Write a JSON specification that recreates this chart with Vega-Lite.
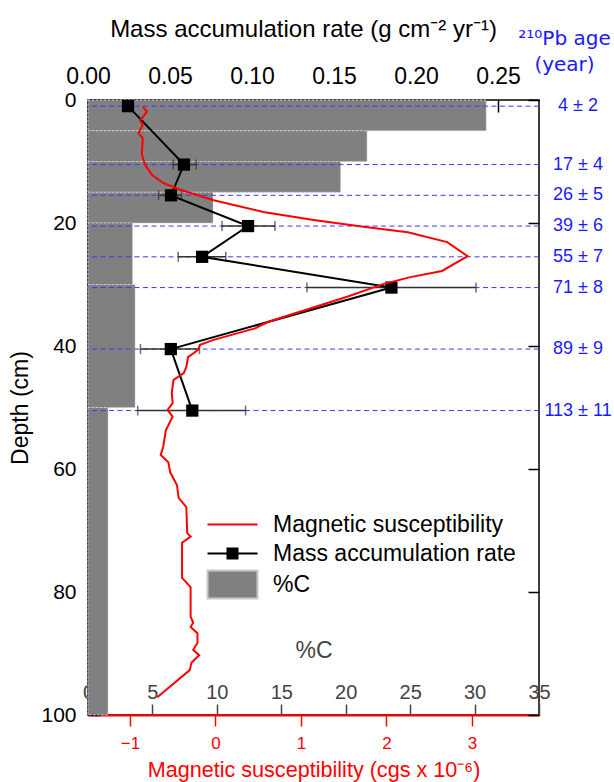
{
  "$schema": "https://vega.github.io/schema/vega-lite/v6.json",
  "width": 451,
  "height": 615,
  "autosize": {"type": "none"},
  "padding": {"left": 88, "top": 100, "right": 75, "bottom": 67},
  "background": "white",
  "config": {
    "font": "Liberation Sans",
    "view": {"stroke": "#000000", "strokeWidth": 1.5},
    "axis": {"grid": false, "domain": false, "zindex": 1, "labelFont": "Liberation Sans", "titleFont": "Liberation Sans", "titleFontWeight": "normal", "labelOverlap": false, "labelFlush": false, "tickWidth": 1.5},
    "legend": {"title": null, "orient": "none", "padding": 0, "labelFont": "Liberation Sans", "labelFontSize": 23, "labelColor": "#000000", "labelLimit": 500, "labelOffset": 29, "symbolSize": 400, "symbolStrokeWidth": 2}
  },
  "datasets": {
    "carbon": [
      {"top": 0, "bottom": 5, "carbon": 30.9},
      {"top": 5, "bottom": 10, "carbon": 21.65},
      {"top": 10, "bottom": 15, "carbon": 19.6},
      {"top": 15, "bottom": 20, "carbon": 9.7},
      {"top": 20, "bottom": 30, "carbon": 3.45},
      {"top": 30, "bottom": 50, "carbon": 3.65},
      {"top": 50, "bottom": 100, "carbon": 1.55}
    ],
    "mar": [
      {"depth": 1, "mar": 0.0244, "lo": null, "hi": null},
      {"depth": 10.5, "mar": 0.0585, "lo": 0.052, "hi": 0.066},
      {"depth": 15.5, "mar": 0.0506, "lo": 0.043, "hi": 0.057},
      {"depth": 20.5, "mar": 0.0976, "lo": 0.0817, "hi": 0.114},
      {"depth": 25.5, "mar": 0.0696, "lo": 0.055, "hi": 0.084},
      {"depth": 30.5, "mar": 0.185, "lo": 0.1335, "hi": 0.2366},
      {"depth": 40.5, "mar": 0.0505, "lo": 0.032, "hi": 0.068},
      {"depth": 50.5, "mar": 0.0636, "lo": 0.0303, "hi": 0.0961}
    ],
    "ages": [
      {"depth": 1, "age": "4 ± 2"},
      {"depth": 10.5, "age": "17 ± 4"},
      {"depth": 15.5, "age": "26 ± 5"},
      {"depth": 20.5, "age": "39 ± 6"},
      {"depth": 25.5, "age": "55 ± 7"},
      {"depth": 30.5, "age": "71 ± 8"},
      {"depth": 40.5, "age": "89 ± 9"},
      {"depth": 50.5, "age": "113 ± 11"}
    ],
    "ms": [
      {"depth": 1.1, "ms": -0.85},
      {"depth": 1.9, "ms": -0.80},
      {"depth": 3.3, "ms": -0.88},
      {"depth": 4.1, "ms": -0.85},
      {"depth": 5.4, "ms": -0.90},
      {"depth": 6.2, "ms": -0.85},
      {"depth": 8.9, "ms": -0.86},
      {"depth": 10.6, "ms": -0.82},
      {"depth": 12.2, "ms": -0.74},
      {"depth": 13.5, "ms": -0.61},
      {"depth": 14.6, "ms": -0.41},
      {"depth": 16.3, "ms": -0.02},
      {"depth": 18.2, "ms": 0.56},
      {"depth": 19.5, "ms": 1.15},
      {"depth": 20.6, "ms": 1.73},
      {"depth": 21.5, "ms": 2.25},
      {"depth": 23.1, "ms": 2.71},
      {"depth": 25.4, "ms": 2.95},
      {"depth": 27.8, "ms": 2.65},
      {"depth": 28.8, "ms": 2.28},
      {"depth": 29.9, "ms": 1.97},
      {"depth": 32.0, "ms": 1.54},
      {"depth": 36.1, "ms": 0.61},
      {"depth": 37.1, "ms": 0.47},
      {"depth": 39.0, "ms": -0.02},
      {"depth": 39.8, "ms": -0.18},
      {"depth": 40.6, "ms": -0.20},
      {"depth": 41.8, "ms": -0.32},
      {"depth": 43.4, "ms": -0.34},
      {"depth": 44.4, "ms": -0.37},
      {"depth": 45.5, "ms": -0.49},
      {"depth": 47.6, "ms": -0.51},
      {"depth": 49.3, "ms": -0.50},
      {"depth": 50.4, "ms": -0.56},
      {"depth": 51.5, "ms": -0.50},
      {"depth": 53.7, "ms": -0.58},
      {"depth": 56.4, "ms": -0.61},
      {"depth": 57.7, "ms": -0.64},
      {"depth": 58.9, "ms": -0.55},
      {"depth": 60.5, "ms": -0.53},
      {"depth": 62.6, "ms": -0.45},
      {"depth": 64.7, "ms": -0.43},
      {"depth": 66.2, "ms": -0.34},
      {"depth": 70.4, "ms": -0.33},
      {"depth": 71.0, "ms": -0.29},
      {"depth": 72.0, "ms": -0.39},
      {"depth": 77.7, "ms": -0.39},
      {"depth": 79.2, "ms": -0.29},
      {"depth": 84.0, "ms": -0.29},
      {"depth": 85.0, "ms": -0.26},
      {"depth": 85.7, "ms": -0.29},
      {"depth": 86.7, "ms": -0.21},
      {"depth": 88.3, "ms": -0.21},
      {"depth": 89.4, "ms": -0.26},
      {"depth": 90.3, "ms": -0.19},
      {"depth": 91.5, "ms": -0.28},
      {"depth": 92.7, "ms": -0.30},
      {"depth": 97.1, "ms": -0.68}
    ]
  },
  "resolve": {"scale": {"x": "independent"}, "axis": {"x": "independent", "y": "independent"}},
  "layer": [
    {
      "data": {"name": "carbon"},
      "mark": {"type": "rect", "stroke": "#c8c8c8", "strokeDash": [2, 2], "strokeWidth": 1},
      "encoding": {
        "x": {"field": "carbon", "type": "quantitative", "scale": {"domain": [0, 35], "nice": false},
          "axis": {"orient": "top", "offset": -615, "values": [0, 5, 10, 15, 20, 25, 30, 35], "tickSize": 11, "tickColor": "#444444", "labelColor": "#444444", "labelFontSize": 20, "labelPadding": 2, "title": "%C", "titleFontSize": 23, "titleColor": "#444444", "titlePadding": 20}},
        "y": {"field": "top", "type": "quantitative", "scale": {"domain": [0, 100], "reverse": true, "nice": false, "zero": false},
          "axis": {"orient": "left", "values": [0, 20, 40, 60, 80, 100], "tickSize": -12, "tickColor": "#000000", "labelPadding": 24, "labelFontSize": 21, "labelColor": "#000000", "title": "Depth (cm)", "titleFontSize": 23, "titleColor": "#000000", "titlePadding": 8}},
        "y2": {"field": "bottom"},
        "fill": {"datum": "%C", "type": "nominal", "scale": {"range": ["#808080"]},
          "legend": {"legendX": 133, "legendY": 473, "symbolType": "M-2.5,-1.4H2.5V1.4H-2.5Z"}}
      }
    },
    {
      "layer": [
        {
          "data": {"name": "ages"},
          "mark": {"type": "rule", "color": "#3a3aff", "strokeWidth": 1, "strokeDash": [5, 3.5]},
          "encoding": {
            "y": {"field": "depth", "type": "quantitative", "scale": {"domain": [0, 100], "reverse": true, "nice": false, "zero": false}, "axis": null}
          }
        },
        {
          "data": {"name": "mar"},
          "mark": {"type": "rule", "color": "#333333", "strokeWidth": 1.5},
          "encoding": {
            "x": {"field": "lo", "type": "quantitative", "scale": {"domain": [0, 0.275], "nice": false, "zero": false},
              "axis": {"orient": "top", "values": [0, 0.05, 0.1, 0.15, 0.2, 0.25], "format": ".2f", "tickSize": -12, "tickColor": "#000000", "labelPadding": 24, "labelFontSize": 23, "labelColor": "#000000", "title": "Mass accumulation rate (g cm⁻² yr⁻¹)", "titleFontSize": 24, "titleColor": "#000000", "titlePadding": 24, "titleX": 215}},
            "x2": {"field": "hi"},
            "y": {"field": "depth", "type": "quantitative", "axis": null}
          }
        },
        {
          "data": {"name": "mar"},
          "mark": {"type": "tick", "orient": "vertical", "color": "#333333", "size": 10, "thickness": 1.5},
          "encoding": {
            "x": {"field": "lo", "type": "quantitative"},
            "y": {"field": "depth", "type": "quantitative", "axis": null}
          }
        },
        {
          "data": {"name": "mar"},
          "mark": {"type": "tick", "orient": "vertical", "color": "#333333", "size": 10, "thickness": 1.5},
          "encoding": {
            "x": {"field": "hi", "type": "quantitative"},
            "y": {"field": "depth", "type": "quantitative", "axis": null}
          }
        },
        {
          "data": {"name": "mar"},
          "mark": {"type": "line", "strokeWidth": 2},
          "encoding": {
            "x": {"field": "mar", "type": "quantitative"},
            "y": {"field": "depth", "type": "quantitative", "axis": null},
            "order": {"field": "depth", "type": "quantitative"},
            "color": {"datum": "Mass accumulation rate", "type": "nominal", "scale": {"range": ["#000000"]},
              "legend": {"legendX": 133, "legendY": 442, "symbolType": "M-2.5,0H2.5M-0.5,-0.5H0.5V0.5H-0.5Z"}}
          }
        },
        {
          "data": {"name": "mar"},
          "mark": {"type": "point", "shape": "square", "filled": true, "size": 150, "opacity": 1},
          "encoding": {
            "x": {"field": "mar", "type": "quantitative"},
            "y": {"field": "depth", "type": "quantitative", "axis": null},
            "color": {"datum": "Mass accumulation rate", "type": "nominal"}
          }
        },
        {
          "data": {"name": "ages"},
          "mark": {"type": "text", "color": "#1a1aff", "fontSize": 18, "align": "center", "baseline": "middle"},
          "encoding": {
            "x": {"datum": 0.2988, "type": "quantitative"},
            "y": {"field": "depth", "type": "quantitative", "axis": null},
            "text": {"field": "age"}
          }
        }
      ]
    },
    {
      "data": {"name": "ms"},
      "mark": {"type": "line", "strokeWidth": 2},
      "encoding": {
        "x": {"field": "ms", "type": "quantitative", "scale": {"domain": [-1.49, 3.784], "nice": false, "zero": false},
          "axis": {"orient": "bottom", "values": [-1, 0, 1, 2, 3], "domain": true, "domainColor": "#ff0000", "domainWidth": 2, "tickSize": 11, "tickColor": "#ff0000", "labelColor": "#ff0000", "labelFontSize": 17, "labelPadding": 9, "title": "Magnetic susceptibility (cgs x 10⁻⁶)", "titleColor": "#ff0000", "titleFontSize": 21.6, "titlePadding": 8}},
        "y": {"field": "depth", "type": "quantitative", "scale": {"domain": [0, 100], "reverse": true, "nice": false, "zero": false},
          "axis": {"orient": "right", "values": [0, 20, 40, 60, 80, 100], "tickSize": -11, "tickColor": "#000000", "labels": false,
            "title": ["²¹⁰Pb age", "(year)"], "titleFont": "DejaVu Sans", "titleAngle": 0, "titleAlign": "center", "titleBaseline": "alphabetic", "titleX": 25, "titleY": -56, "titleLineHeight": 26, "titleFontSize": 20, "titleColor": "#1a1aff"}},
        "order": {"field": "depth", "type": "quantitative"},
        "stroke": {"datum": "Magnetic susceptibility", "type": "nominal", "scale": {"range": ["#ff0000"]},
          "legend": {"legendX": 133, "legendY": 413, "symbolType": "M-2.5,0H2.5"}}
      }
    }
  ]
}
